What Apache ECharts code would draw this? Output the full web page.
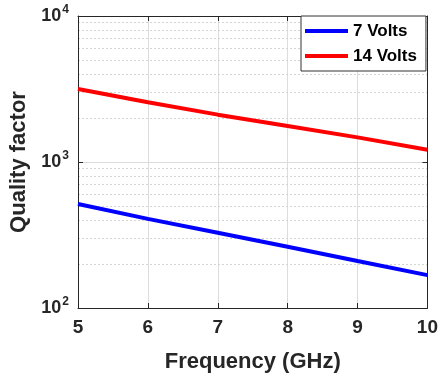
<!DOCTYPE html>
<html>
<head>
<meta charset="utf-8">
<script src="https://cdn.jsdelivr.net/npm/echarts@6/dist/echarts.min.js"></script>
<style>
html,body{margin:0;padding:0;background:#fff;}
#chart{width:441px;height:378px;}
</style>
</head>
<body>
<div id="chart"></div>
<script>
var frequency = [5, 6, 7, 8, 9, 10];
var q7Volts = [515, 408, 328, 263, 210, 168];
var q14Volts = [3162, 2566, 2110, 1766, 1475, 1214];
var xTicks = [5, 6, 7, 8, 9, 10];
var yDecades = [100, 1000, 10000];
var minorGrid = [200, 300, 400, 500, 600, 700, 800, 900, 2000, 3000, 4000, 5000, 6000, 7000, 8000, 9000];

var FONT = '"Liberation Sans", Arial, sans-serif';
var TXT = '#262626';

function pairs(xs, ys) { return xs.map(function (x, i) { return [x, ys[i]]; }); }

var chart = echarts.init(document.getElementById('chart'), null, { renderer: 'canvas' });
chart.setOption({
  animation: false,
  backgroundColor: '#fff',
  grid: { left: 77, right: 13, top: 16, bottom: 70, show: false },
  legend: {
    orient: 'vertical',
    left: 301, top: 16,
    padding: [5, 9, 5, 4],
    itemGap: 5,
    itemWidth: 43, itemHeight: 4,
    icon: 'rect',
    z: 10,
    backgroundColor: '#fff',
    borderColor: '#333', borderWidth: 1, borderRadius: 0,
    textStyle: { fontFamily: FONT, fontWeight: 'bold', fontSize: 17, color: '#000', lineHeight: 20 },
    data: ['7 Volts', '14 Volts']
  },
  xAxis: [{
    type: 'value', min: 5, max: 10, interval: 1,
    name: 'Frequency (GHz)', nameLocation: 'middle', nameGap: 43,
    nameTextStyle: { fontFamily: FONT, fontWeight: 'bold', fontSize: 22, color: TXT },
    axisLine: { show: true, onZero: false, lineStyle: { color: '#262626', width: 1 } },
    axisTick: { show: true, inside: true, length: 5, lineStyle: { color: '#262626' } },
    axisLabel: { fontFamily: FONT, fontWeight: 'bold', fontSize: 19, color: TXT, margin: 10,
      formatter: function (v) { return xTicks.indexOf(v) >= 0 ? String(v) : ''; } },
    splitLine: { show: true, lineStyle: { color: '#dcdcdc', width: 1 } }
  }, {
    type: 'value', min: 5, max: 10, interval: 1, position: 'top',
    axisLine: { show: true, onZero: false, lineStyle: { color: '#262626', width: 1 } },
    axisTick: { show: true, inside: true, length: 5, lineStyle: { color: '#262626' } },
    axisLabel: { show: false }, splitLine: { show: false }
  }],
  yAxis: [{
    type: 'log', logBase: 10, min: 100, max: 10000,
    name: 'Quality factor', nameLocation: 'middle', nameGap: 48, nameRotate: 90,
    nameTextStyle: { fontFamily: FONT, fontWeight: 'bold', fontSize: 22, color: TXT },
    axisLine: { show: true, onZero: false, lineStyle: { color: '#262626', width: 1 } },
    axisTick: { show: true, inside: true, length: 5, lineStyle: { color: '#262626' } },
    axisLabel: {
      margin: 9,
      formatter: function (v) {
        var e = Math.round(Math.log10(v));
        return '{b|10}{s|' + e + '}';
      },
      rich: {
        b: { fontFamily: FONT, fontWeight: 'bold', fontSize: 18, color: TXT },
        s: { fontFamily: FONT, fontWeight: 'bold', fontSize: 12, color: TXT, padding: [0, 0, 12, 1] }
      }
    },
    splitLine: { show: true, lineStyle: { color: '#dcdcdc', width: 1 } }
  }, {
    type: 'log', logBase: 10, min: 100, max: 10000, position: 'right',
    axisLine: { show: true, onZero: false, lineStyle: { color: '#262626', width: 1 } },
    axisTick: { show: true, inside: true, length: 5, lineStyle: { color: '#262626' } },
    axisLabel: { show: false }, splitLine: { show: false }
  }],
  series: [{
    type: 'line', name: 'minor', xAxisIndex: 0, yAxisIndex: 0, data: [], silent: true, z: 0,
    markLine: {
      silent: true, z: 0, symbol: ['none', 'none'], label: { show: false },
      lineStyle: { color: '#d4d4d4', type: [2, 2], width: 1 },
      data: minorGrid.map(function (v) { return { yAxis: v }; })
    }
  }, {
    type: 'line', name: '7 Volts', data: pairs(frequency, q7Volts), z: 3,
    showSymbol: false, symbol: 'none',
    lineStyle: { color: '#0000ff', width: 4 }, itemStyle: { color: '#0000ff' }
  }, {
    type: 'line', name: '14 Volts', data: pairs(frequency, q14Volts), z: 3,
    showSymbol: false, symbol: 'none',
    lineStyle: { color: '#ff0000', width: 4 }, itemStyle: { color: '#ff0000' }
  }]
});
</script>
</body>
</html>
